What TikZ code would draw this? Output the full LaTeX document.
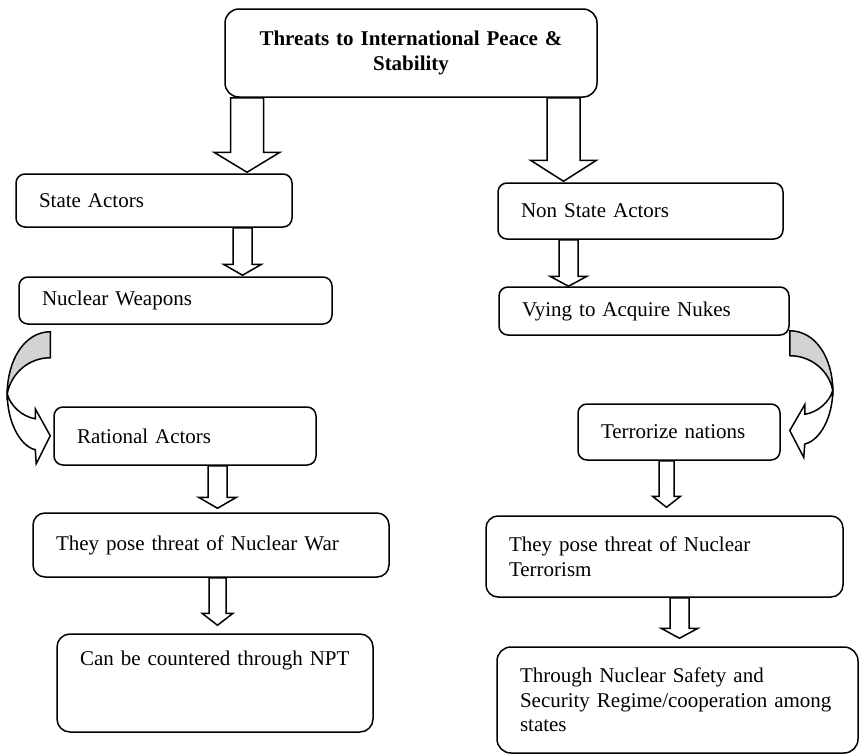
\documentclass[tikz,border=0pt]{standalone}
\usepackage{fontspec}
\setmainfont{Liberation Serif}
\usetikzlibrary{calc}

\tikzset{
  box/.style={draw, line width=1.5pt, rounded corners=9pt, align=left,
    inner xsep=23pt, inner ysep=0pt, font=\fontsize{21}{24.5}\selectfont},
  fat/.style n args={3}{draw, fill=white, line width=1.5pt, to path={
      let \p1=(\tikztostart), \p2=(\tikztotarget) in
      (\x1-#1pt,\y1) -- (\x1-#1pt,\y2+#3pt) -- (\x1-#2pt,\y2+#3pt) -- (\x2,\y2)
      -- (\x1+#2pt,\y2+#3pt) -- (\x1+#1pt,\y2+#3pt) -- (\x1+#1pt,\y1) -- cycle}},
  bend arrow/.pic={
    \draw[line width=1.5pt, fill=gray!35] (0,0) .. controls (-26,0) and (-43,29) .. (-43,62)
      .. controls (-39,41) and (-21,26) .. (0,26) -- cycle;
    \draw[line width=1.5pt, fill=white] (-43,62) .. controls (-43,89) and (-31,114) .. (-15,118)
      -- (-14,132) -- (0,104) -- (-15,77) -- (-15,87)
      .. controls (-28,85) and (-40,74) .. (-43,62) -- cycle;
  }
}

\begin{document}
\begin{tikzpicture}[x=1pt, y=-1pt]
  \useasboundingbox (0,0) rectangle (860,755);

  % boxes
  \node[box, align=center, inner xsep=10pt, text width=352pt, minimum height=88pt,
    rounded corners=14pt, font=\bfseries\fontsize{21}{25}\selectfont]
    (top) at (411,53) {Threats to International Peace \&\\ Stability};

  \node[box, text width=230pt, minimum height=53pt] (sa) at (154,200.5) {State Actors};
  \node[box, text width=267pt, minimum height=47pt] (nw) at (175.5,300.5) {Nuclear Weapons};
  \node[box, text width=216pt, minimum height=58pt] (ra) at (185,436) {Rational Actors};
  \node[box, text width=310pt, minimum height=64pt, rounded corners=12pt] (pw) at (211,545)
    {They pose threat of Nuclear War};
  \node[box, text width=270pt, minimum height=98pt, text depth=49pt, rounded corners=13pt]
    (cn) at (215,683) {Can be countered through NPT};

  \node[box, text width=239pt, minimum height=56pt] (nsa) at (640.5,211) {Non State Actors};
  \node[box, text width=244pt, minimum height=48pt] (vy) at (644,311) {Vying to Acquire Nukes};
  \node[box, text width=156pt, minimum height=56pt] (tn) at (679,432) {Terrorize nations};
  \node[box, text width=311pt, minimum height=81pt, rounded corners=12pt] (pt) at (664.5,556.5)
    {They pose threat of Nuclear\\ Terrorism};
  \node[box, text width=315pt, minimum height=106pt, rounded corners=14pt] (ss) at (677.5,700)
    {Through Nuclear Safety and\\ Security Regime/cooperation among\\ states};

  % block arrows
  \draw[fat={16.5}{33}{20}] (top.south -| 247,0) to ($(sa.north -| 247,0)+(0,-1)$);
  \draw[fat={16.5}{33}{21}] (top.south -| 563.5,0) to ($(nsa.north -| 563.5,0)+(0,-1)$);
  \draw[fat={9.5}{19}{11}] (sa.south -| 242.5,0) to ($(nw.north -| 242.5,0)+(0,-1)$);
  \draw[fat={9.5}{18.5}{10}] (nsa.south -| 568.5,0) to (vy.north -| 568.5,0);
  \draw[fat={9.5}{19}{11}] (ra.south -| 217.5,0) to ($(pw.north -| 217.5,0)+(0,-4)$);
  \draw[fat={8.5}{15.5}{12}] (pw.south -| 217.5,0) to ($(cn.north -| 217.5,0)+(0,-8)$);
  \draw[fat={7.5}{14}{11}] (tn.south -| 666.5,0) to ($(pt.north -| 666.5,0)+(0,-8)$);
  \draw[fat={9.5}{18.5}{10}] (pt.south -| 679.5,0) to ($(ss.north -| 679.5,0)+(0,-8)$);

  % curved arrows
  \pic at ($(nw.south west)+(32,7)$) {bend arrow};
  \pic[xscale=-1, yscale=0.96] at ($(vy.south east)+(0,-5)$) {bend arrow};
\end{tikzpicture}
\end{document}
